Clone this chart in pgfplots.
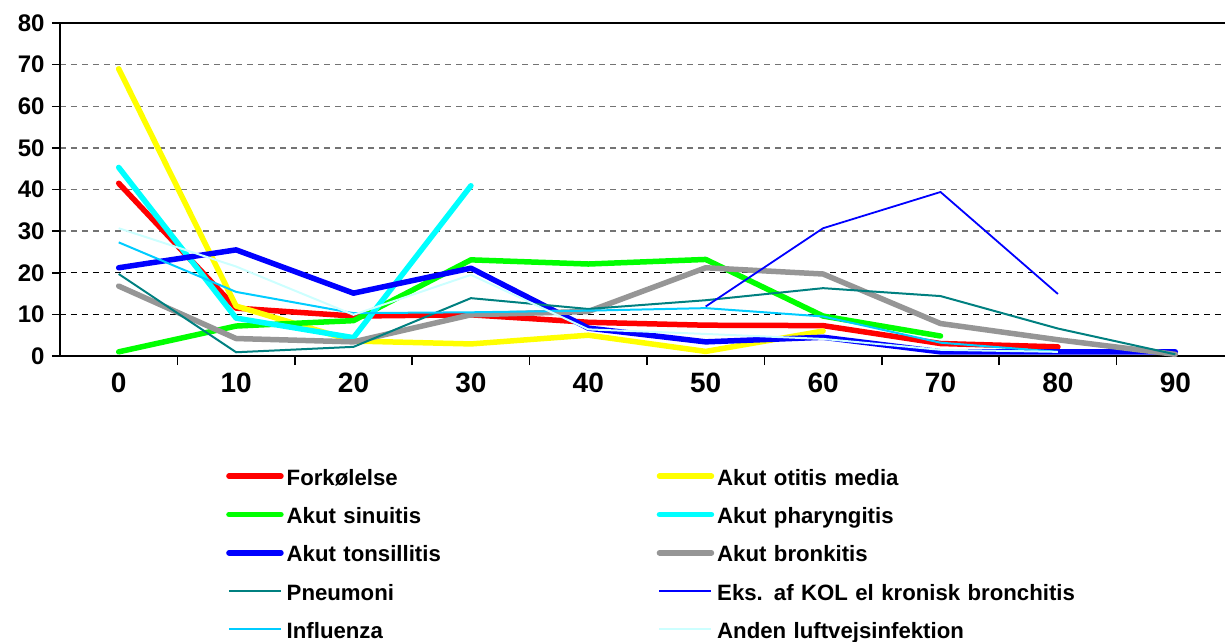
\documentclass[border=0pt]{standalone}
\usepackage{fontspec}
\setmainfont{Liberation Sans}
\usepackage{pgfplots}
\pgfplotsset{compat=1.18}
\definecolor{tealc}{RGB}{0,128,128}
\definecolor{grayc}{RGB}{150,150,150}
\definecolor{influ}{RGB}{0,204,255}
\definecolor{anden}{RGB}{204,255,255}
\definecolor{redc}{RGB}{255,0,0}
\definecolor{yelc}{RGB}{255,255,0}
\definecolor{grnc}{RGB}{0,255,0}
\definecolor{cyac}{RGB}{0,255,255}
\definecolor{bluc}{RGB}{0,0,255}
\begin{document}
\begin{tikzpicture}
\useasboundingbox (-60pt,-285pt) rectangle (1165pt,356pt);
\begin{axis}[
  scale only axis, width=1164.6pt, height=333pt,
  at={(0,0)}, anchor=south west,
  xmin=-0.5, xmax=9.42, ymin=0, ymax=80,
  axis x line*=bottom, axis y line*=left,
  axis line style={line width=2pt, -},
  xtick={0,...,9}, xticklabels={0,10,20,30,40,50,60,70,80,90},
  major x tick style={draw=none},
  minor xtick={0.5,1.5,...,8.5},
  minor tick length=9pt,
  minor x tick style={line width=1.5pt, black},
  tick align=outside,
  ytick={0,10,...,80}, major tick length=8pt,
  major y tick style={line width=1.5pt, black},
  ymajorgrids,
  major grid style={gray!90!black, line width=1.3pt, dash pattern=on 6pt off 5pt},
  extra y ticks={10,20}, extra y tick labels={},
  extra y tick style={major tick length=0pt, grid=major, major grid style={black, line width=1.3pt, dash pattern=on 6pt off 5pt}},
  /pgf/number format/assume math mode=true,
  xticklabel style={font=\fontsize{28}{28}\selectfont\bfseries, yshift=-5pt},
  yticklabel style={font=\fontsize{24}{24}\selectfont\bfseries, xshift=-4pt},
  legend columns=2,
  legend style={at={(0.14254,-0.3393)}, anchor=north west, draw=none, fill=none,
    inner sep=0pt, row sep=20.3pt, font=\fontsize{22.2}{22.2}\selectfont\bfseries,
    nodes={inner xsep=3pt, inner ysep=0pt, text height=16pt, text depth=2pt, text width=367pt, align=left}},
  legend image code/.code={\draw[#1] (0pt,2pt) -- (52pt,2pt);},
  clip=false,
]
\draw[black, line width=2pt] (rel axis cs:0,1) -- (rel axis cs:1,1);
% Forkoelelse
\addplot[redc, line width=5.5pt, line cap=round, line join=round] coordinates {(0,41.5) (1,11.5) (2,9.6) (3,9.9) (4,8.1) (5,7.4) (6,7.3) (7,3.0) (8,2.2)};
\addlegendentry{Forkølelse}
% Akut otitis media
\addplot[yelc, line width=5.5pt, line cap=round, line join=round] coordinates {(0,69.0) (1,12.0) (2,3.6) (3,2.9) (4,5.0) (5,1.1) (6,6.0)};
\addlegendentry{Akut otitis media}
% Akut sinuitis
\addplot[grnc, line width=5.5pt, line cap=round, line join=round] coordinates {(0,1.0) (1,7.2) (2,8.5) (3,23.1) (4,22.1) (5,23.2) (6,9.6) (7,4.8)};
\addlegendentry{Akut sinuitis}
% Akut pharyngitis
\addplot[cyac, line width=5.5pt, line cap=round, line join=round] coordinates {(0,45.3) (1,9.1) (2,4.4) (3,40.9)};
\addlegendentry{Akut pharyngitis}
% Akut tonsillitis
\addplot[bluc, line width=5.5pt, line cap=round, line join=round] coordinates {(0,21.2) (1,25.5) (2,15.1) (3,21.1) (4,6.7) (5,3.4) (6,4.5) (7,1.0) (8,1.0) (9,1.0)};
\addlegendentry{Akut tonsillitis}
% Akut bronkitis
\addplot[grayc, line width=5.5pt, line cap=round, line join=round] coordinates {(0,16.8) (1,4.2) (2,3.4) (3,9.9) (4,10.7) (5,21.2) (6,19.7) (7,7.8) (8,3.9) (9,0.4)};
\addlegendentry{Akut bronkitis}
% Pneumoni
\addplot[tealc, line width=2pt] coordinates {(0,19.7) (1,0.9) (2,2.2) (3,13.9) (4,11.3) (5,13.4) (6,16.3) (7,14.4) (8,6.6) (9,0.4)};
\addlegendentry{Pneumoni}
% Eks. af KOL
\addplot[bluc, line width=1.8pt] coordinates {(5,11.9) (6,30.7) (7,39.4) (8,14.9)};
\addlegendentry{Eks. af KOL el kronisk bronchitis}
% Influenza
\addplot[influ, line width=2pt] coordinates {(0,27.3) (1,15.4) (2,10.3) (3,10.5) (4,10.9) (5,11.5) (6,9.5) (7,3.2) (8,1.0)};
\addlegendentry{Influenza}
% Anden luftvejsinfektion
\addplot[anden, line width=2pt] coordinates {(0,30.7) (1,21.5) (2,9.9) (3,19.5) (4,6.4) (5,5.3) (6,4.1) (7,1.5) (8,1.0)};
\addlegendentry{Anden luftvejsinfektion}
\end{axis}
\end{tikzpicture}
\end{document}
